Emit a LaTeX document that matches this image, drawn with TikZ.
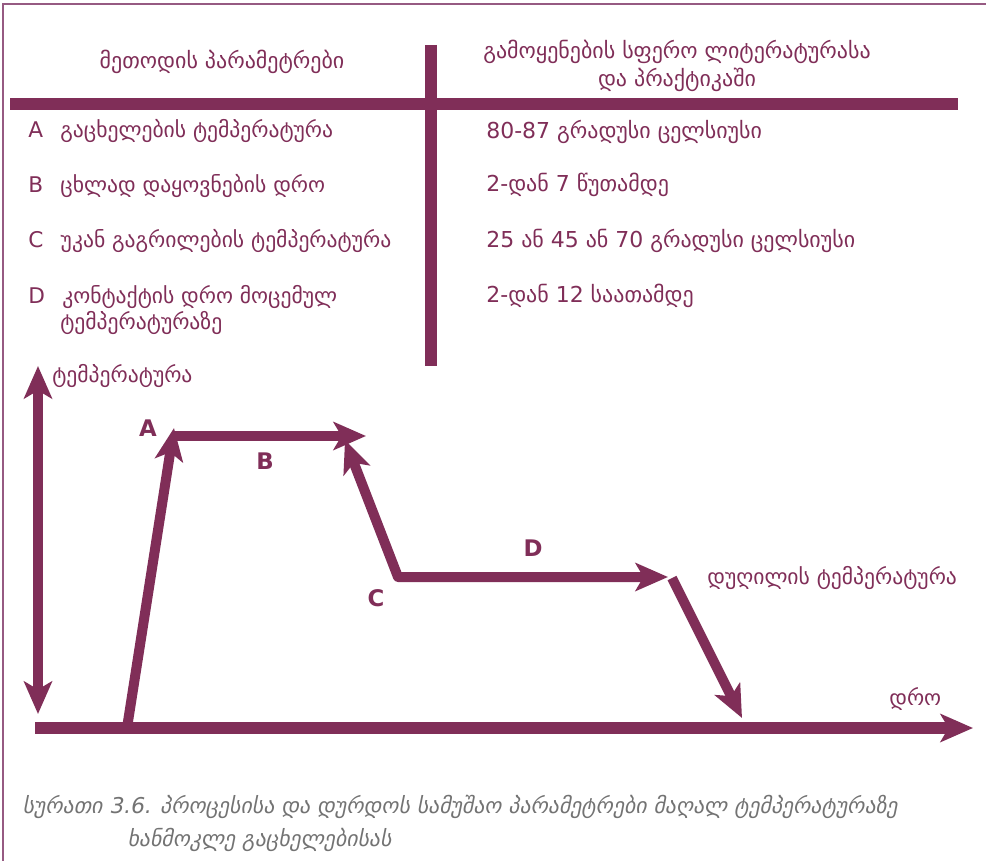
\documentclass[tikz,border=0pt]{standalone}
\usepackage{fontspec}
\setmainfont{DejaVu Sans}
\newfontfamily\capfont[FakeSlant=0.2]{DejaVu Sans}
\usetikzlibrary{arrows.meta}
\definecolor{plum}{RGB}{128,46,88}
\definecolor{frameplum}{RGB}{150,90,130}
\definecolor{capgray}{RGB}{115,115,115}
\tikzstyle{frameline}=[draw=frameplum,line width=0.7pt]
\tikzstyle{barline}=[draw=plum,line width=0.24cm]
\tikzstyle{curve}=[draw=plum,line width=0.2cm,line join=round,-{Stealth[length=6.5mm,width=5.6mm,inset=1.6mm]}]
\tikzstyle{axisline}=[draw=plum,line width=0.24cm,-{Stealth[length=6.5mm,width=5.6mm,inset=1.6mm]}]
\tikzstyle{cell}=[text=plum,font=\fontsize{12.3}{14}\selectfont,anchor=west,inner sep=0pt]
\tikzstyle{head}=[text=plum,font=\fontsize{12.5}{16}\selectfont,align=center,inner sep=0pt]
\tikzstyle{tag}=[text=plum,font=\bfseries\fontsize{13}{15}\selectfont,inner sep=0pt]
\tikzstyle{capline}=[text=capgray,font=\capfont\fontsize{12.4}{14}\selectfont,anchor=west,inner sep=0pt]

\begin{document}
\begin{tikzpicture}[x=0.02cm,y=-0.02cm]
  \useasboundingbox (0,0) rectangle (986,861);
  \draw[frameline] (3,861) -- (3,4) -- (986,4);

  % table
  \draw[barline] (10,104) -- (958,104);
  \draw[barline] (431,45) -- (431,366);
  \node[head] (lefthead) at (222,62) {მეთოდის პარამეტრები};
  \node[head] (righthead) at (677,66) {გამოყენების სფერო ლიტერატურასა\\და პრაქტიკაში};

  \node[cell] (rowA) at (28,131) {A\hspace{0.8em}გაცხელების ტემპერატურა};
  \node[cell] (rowB) at (28,186) {B\hspace{0.8em}ცხლად დაყოვნების დრო};
  \node[cell] (rowC) at (28,241) {C\hspace{0.8em}უკან გაგრილების ტემპერატურა};
  \node[cell] (rowD) at (28,297) {D\hspace{0.8em}კონტაქტის დრო მოცემულ};
  \node[cell] (rowDD) at (60,323) {ტემპერატურაზე};

  \node[cell,font=\fontsize{12.5}{14}\selectfont] (valA) at (486,132) {80-87 გრადუსი ცელსიუსი};
  \node[cell,font=\fontsize{12.5}{14}\selectfont] (valB) at (486,185) {2-დან 7 წუთამდე};
  \node[cell,font=\fontsize{12.5}{14}\selectfont] (valC) at (486,241) {25 ან 45 ან 70 გრადუსი ცელსიუსი};
  \node[cell,font=\fontsize{12.5}{14}\selectfont] (valD) at (486,296) {2-დან 12 საათამდე};

  % process curve
  \coordinate (origin) at (35,728);
  \coordinate (tend) at (973,728);
  \coordinate (ttop) at (38,366);
  \coordinate (tbot) at (38,714);
  \coordinate (heat0) at (127,728);
  \coordinate (heat1) at (174,428);
  \coordinate (hold0) at (172,436);
  \coordinate (hold1) at (366,436);
  \coordinate (cool0) at (398,577);
  \coordinate (cool1) at (345,440);
  \coordinate (rest1) at (668,577);
  \coordinate (drop0) at (672,578);
  \coordinate (drop1) at (742,718);

  \draw[axisline] (origin) -- (tend);
  \draw[curve,{Stealth[length=6.5mm,width=5.6mm,inset=1.6mm]}-{Stealth[length=6.5mm,width=5.6mm,inset=1.6mm]}] (ttop) -- (tbot);
  \draw[curve] (heat0) -- (heat1);
  \draw[curve] (hold0) -- (hold1);
  \draw[curve,{Stealth[length=6.5mm,width=5.6mm,inset=1.6mm]}-{Stealth[length=6.5mm,width=5.6mm,inset=1.6mm]}] (cool1) -- (cool0) -- (rest1);
  \draw[curve] (drop0) -- (drop1);

  \node[cell] (templabel) at (52,376) {ტემპერატურა};
  \node[cell] (boillabel) at (707,578) {დუღილის ტემპერატურა};
  \node[cell] (timelabel) at (889,699) {დრო};
  \node[tag] (tagA) at (148,428) {A};
  \node[tag] (tagB) at (265,461) {B};
  \node[tag] (tagC) at (376,598) {C};
  \node[tag] (tagD) at (533,548) {D};

  % caption
  \node[capline] (cap1) at (22,807) {სურათი 3.6. პროცესისა და დურდოს სამუშაო პარამეტრები მაღალ ტემპერატურაზე};
  \node[capline] (cap2) at (127,840) {ხანმოკლე გაცხელებისას};
\end{tikzpicture}
\end{document}
